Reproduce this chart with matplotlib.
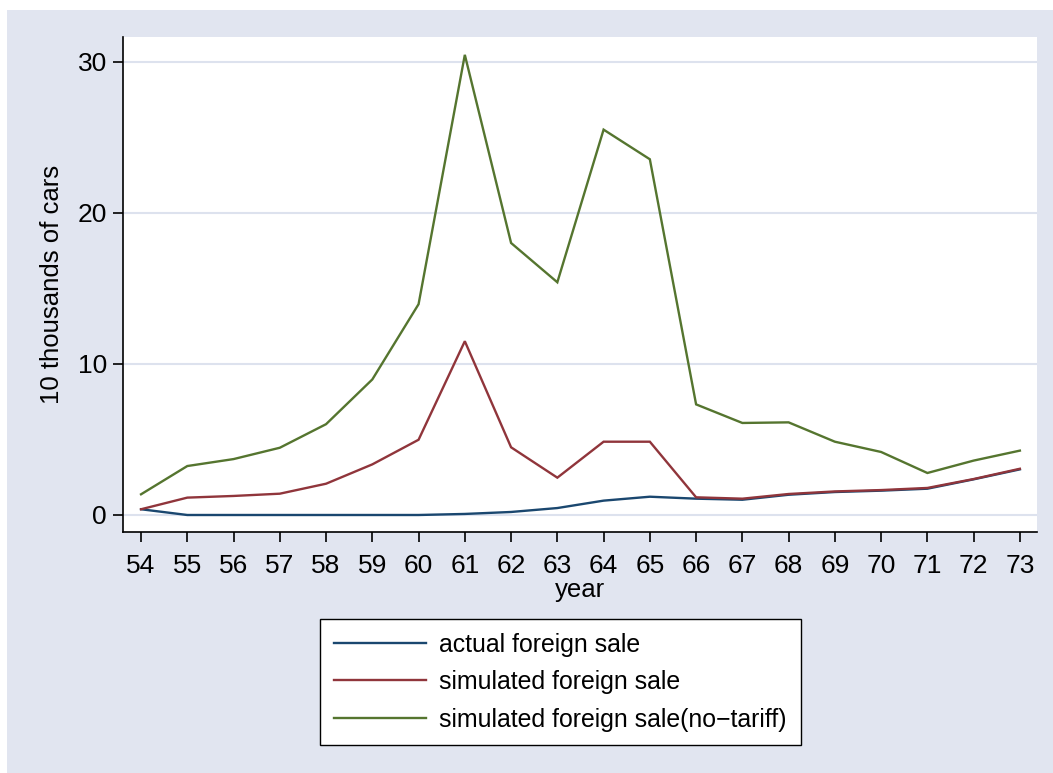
import matplotlib
matplotlib.use("Agg")
import matplotlib.pyplot as plt
from matplotlib.patches import Rectangle

plt.rcParams['font.family'] = ['Liberation Sans', 'DejaVu Sans']

years = list(range(54, 74))
actual_sale = [0.38, 0.0, 0.0, 0.0, 0.0, 0.0, 0.0, 0.07, 0.2, 0.46,
               0.95, 1.21, 1.08, 1.01, 1.34, 1.52, 1.61, 1.74, 2.36, 3.02]
simulated_sale = [0.38, 1.15, 1.26, 1.41, 2.07, 3.35, 4.98, 11.5, 4.48, 2.47,
                  4.85, 4.85, 1.17, 1.08, 1.39, 1.56, 1.65, 1.79, 2.38, 3.06]
simulated_no_tariff = [1.37, 3.24, 3.70, 4.45, 6.01, 8.97, 13.95, 30.45, 18.0, 15.4,
                       25.5, 23.54, 7.32, 6.09, 6.13, 4.85, 4.17, 2.78, 3.6, 4.26]
series_labels = ["actual foreign sale", "simulated foreign sale",
                 "simulated foreign sale(no\u2212tariff)"]
y_ticks = [0, 10, 20, 30]

W, H = 1053, 773
bg = '#E1E5F0'
fig = plt.figure(figsize=(W / 100, H / 100), dpi=100, facecolor='white')
fig.patches.append(Rectangle((7 / W, 0), 1 - 7 / W, 1 - 10 / H,
                             transform=fig.transFigure, facecolor=bg,
                             edgecolor='none', zorder=-10))

ax = fig.add_axes([123 / W, 1 - 532 / H, (1037 - 123) / W, (532 - 37) / H])
ax.set_facecolor('white')

colors = ['#1A476F', '#90353B', '#55752F']
for vals, lab, c in zip([actual_sale, simulated_sale, simulated_no_tariff],
                        series_labels, colors):
    ax.plot(years, vals, color=c, lw=1.7, label=lab, solid_joinstyle='miter')

ax.set_xlim(53.61, 73.37)
ax.set_ylim(-1.125, 31.63)
ax.set_xticks(years)
ax.set_xticklabels([str(y) for y in years])
ax.set_yticks(y_ticks)
ax.grid(axis='y', color='#DDE2EE', lw=1.5, zorder=0)
ax.set_axisbelow(True)

for s in ['top', 'right']:
    ax.spines[s].set_visible(False)
for s in ['left', 'bottom']:
    ax.spines[s].set_linewidth(1.2)
    ax.spines[s].set_color('black')

ax.tick_params(axis='both', direction='out', length=7.5, width=1.2,
               labelsize=19, colors='black')
ax.tick_params(axis='y', pad=4)
ax.tick_params(axis='x', pad=8)

ax.set_xlabel('year', fontsize=18.5, labelpad=0)
ax.set_ylabel('10 thousands of cars', fontsize=18.5, labelpad=10)

leg = ax.legend(loc='upper left', bbox_to_anchor=(320 / W, 1 - 619 / H),
                bbox_transform=fig.transFigure, frameon=True, fancybox=False,
                fontsize=17.9, handlelength=3.7, handletextpad=0.55,
                labelspacing=0.54, borderpad=0.55, borderaxespad=0,
                framealpha=1, facecolor='white')
leg.get_frame().set_edgecolor('black')
leg.get_frame().set_linewidth(1.0)
for h in leg.get_lines():
    h.set_linewidth(1.7)

fig.savefig('out.png', dpi=100, facecolor=fig.get_facecolor())
